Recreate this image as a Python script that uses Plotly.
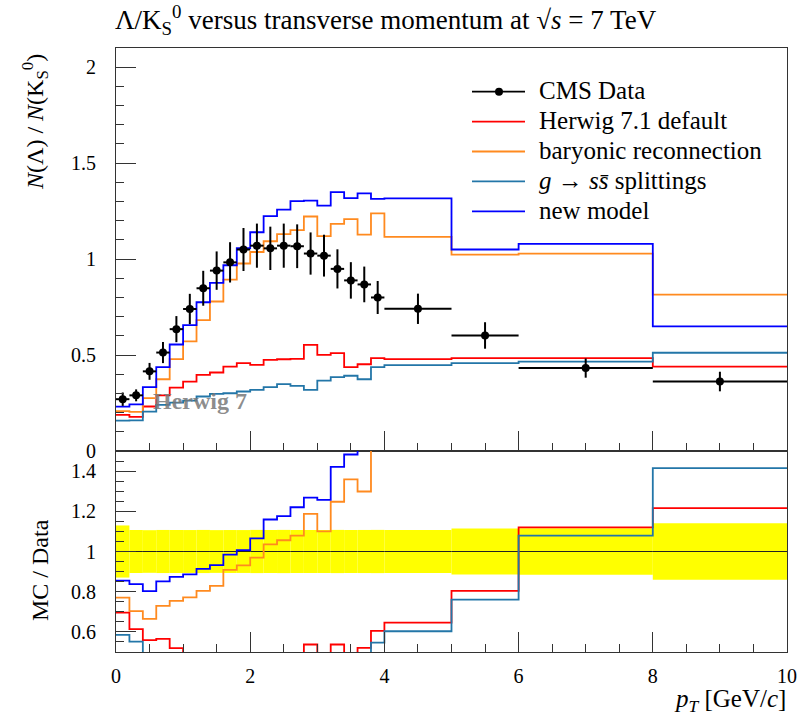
import plotly.graph_objects as go

# --- binning (GeV/c) -------------------------------------------------------
bin_edges = [0.0, 0.2, 0.4, 0.6, 0.8, 1.0, 1.2, 1.4, 1.6, 1.8, 2.0,
             2.2, 2.4, 2.6, 2.8, 3.0, 3.2, 3.4, 3.6, 3.8, 4.0,
             5.0, 6.0, 8.0, 10.0]

# --- CMS measurement ---------------------------------------------------------
cms_ratio = [0.270, 0.290, 0.415, 0.513, 0.635, 0.740, 0.848, 0.940, 0.983, 1.050,
             1.070, 1.056, 1.070, 1.067, 1.029, 1.018, 0.949, 0.889, 0.868, 0.800,
             0.741, 0.602, 0.432, 0.362]
cms_err = [0.035, 0.031, 0.044, 0.055, 0.068, 0.079, 0.091, 0.100, 0.105, 0.112,
           0.115, 0.113, 0.115, 0.114, 0.110, 0.109, 0.102, 0.095, 0.093, 0.086,
           0.079, 0.069, 0.050, 0.051]

# --- Monte Carlo predictions ------------------------------------------------
herwig_default = [0.188, 0.178, 0.232, 0.290, 0.330, 0.362, 0.397, 0.409, 0.440, 0.458,
                  0.449, 0.475, 0.478, 0.480, 0.553, 0.501, 0.510, 0.437, 0.452, 0.484,
                  0.479, 0.484, 0.484, 0.440]
baryonic_reco = [0.208, 0.204, 0.276, 0.374, 0.479, 0.571, 0.682, 0.779, 0.893, 0.977,
                 1.037, 1.093, 1.130, 1.151, 1.222, 1.120, 1.184, 1.208, 1.127, 1.238,
                 1.116, 1.023, 1.028, 0.815]
gluon_ssbar = [0.158, 0.160, 0.205, 0.240, 0.252, 0.263, 0.284, 0.298, 0.301, 0.310,
               0.319, 0.333, 0.348, 0.339, 0.319, 0.367, 0.385, 0.392, 0.374, 0.437,
               0.447, 0.458, 0.466, 0.512]
new_model = [0.231, 0.243, 0.333, 0.437, 0.555, 0.656, 0.775, 0.876, 0.968, 1.057,
             1.140, 1.224, 1.258, 1.302, 1.305, 1.279, 1.349, 1.318, 1.342, 1.314,
             1.316, 1.050, 1.079, 0.649]

series_names = ["Herwig 7.1 default", "baryonic reconnection",
                "<i>g</i> → <i>s</i><i>s̄</i> splittings", "new model"]
series_values = [herwig_default, baryonic_reco, gluon_ssbar, new_model]
series_colors = ["#ff0000", "#ff8a1f", "#2376a8", "#0000ff"]

FONT = "Liberation Serif, DejaVu Serif, serif"
W, H = 799, 717
L, R, T, B = 116, 12, 48, 65
SPLIT = 451  # pixel row where the main panel meets the ratio panel

centers = [(a + b) / 2 for a, b in zip(bin_edges[:-1], bin_edges[1:])]
half_widths = [(b - a) / 2 for a, b in zip(bin_edges[:-1], bin_edges[1:])]
widths = [b - a for a, b in zip(bin_edges[:-1], bin_edges[1:])]


def step(values):
    """Histogram outline: left edges plus closing right edge, drawn with 'hv'."""
    return list(bin_edges), list(values) + [values[-1]]


def px_x(p):
    return (p - L) / (W - L - R)


def px_y(p):
    return (H - B - p) / (H - T - B)


fig = go.Figure()

# ratio panel: data uncertainty band
rel = [e / v for e, v in zip(cms_err, cms_ratio)]
fig.add_trace(go.Bar(
    x=centers, y=[2 * r for r in rel], base=[1 - r for r in rel], width=widths,
    marker=dict(color="#ffff00", line=dict(width=0)),
    xaxis="x2", yaxis="y2", showlegend=False, hoverinfo="skip"))
xs, ys = step([1.0] * len(cms_ratio))
fig.add_trace(go.Scatter(x=xs, y=ys, mode="lines", line=dict(color="#222222", width=1),
                         line_shape="hv", xaxis="x2", yaxis="y2", showlegend=False))

# MC histograms in both panels
for name, vals, col in zip(series_names, series_values, series_colors):
    xs, ys = step(vals)
    fig.add_trace(go.Scatter(x=xs, y=ys, mode="lines", line=dict(color=col, width=1.8),
                             line_shape="hv", name=name, showlegend=False,
                             xaxis="x", yaxis="y"))
    ratio = [m / d for m, d in zip(vals, cms_ratio)]
    xs, ys = step(ratio)
    fig.add_trace(go.Scatter(x=xs, y=ys, mode="lines", line=dict(color=col, width=1.8),
                             line_shape="hv", showlegend=False,
                             xaxis="x2", yaxis="y2"))

# CMS data points
fig.add_trace(go.Scatter(
    x=centers, y=cms_ratio, mode="markers", name="CMS Data",
    marker=dict(color="black", size=8),
    error_y=dict(type="data", array=cms_err, color="black", thickness=2, width=0),
    error_x=dict(type="data", array=half_widths, color="black", thickness=2, width=0),
    showlegend=False, xaxis="x", yaxis="y"))

split_frac = px_y(SPLIT)
tick_font = dict(family=FONT, size=20, color="black")
axis_common = dict(showline=True, linecolor="#333333", linewidth=1, mirror=True,
                   ticks="inside", tickcolor="#333333", tickwidth=1, ticklen=20,
                   showgrid=False, zeroline=False, tickfont=tick_font)

fig.update_layout(
    width=W, height=H, margin=dict(l=L, r=R, t=T, b=B, autoexpand=False),
    paper_bgcolor="white", plot_bgcolor="white", barmode="overlay",
    font=dict(family=FONT, color="black"),
    xaxis=dict(domain=[0, 1], anchor="y", range=[0, 10], dtick=2, tick0=0,
               showticklabels=False, matches="x2",
               minor=dict(dtick=0.5, ticklen=8, ticks="inside", tickcolor="#333333"),
               **axis_common),
    yaxis=dict(domain=[split_frac, 1], anchor="x", range=[0, 2.1], dtick=0.5, tick0=0,
               ticklabelstandoff=15,
               minor=dict(dtick=0.1, ticklen=8, ticks="inside", tickcolor="#333333"),
               **axis_common),
    xaxis2=dict(domain=[0, 1], anchor="y2", range=[0, 10], dtick=2, tick0=0,
                ticklabelstandoff=6,
                minor=dict(dtick=0.5, ticklen=8, ticks="inside", tickcolor="#333333"),
                **axis_common),
    yaxis2=dict(domain=[0, split_frac], anchor="x2", range=[0.5, 1.5], dtick=0.2, tick0=0,
                ticklabelstandoff=15,
                minor=dict(dtick=0.05, ticklen=8, ticks="inside", tickcolor="#333333"),
                **axis_common),
)

annotations = [
    dict(text="Λ/K<sub>S</sub><sup>0</sup> versus transverse momentum at √<i>s</i> = 7 TeV",
         x=px_x(113), y=px_y(20), xanchor="left", yanchor="middle",
         font=dict(family=FONT, size=27)),
    dict(text="<i>N</i>(Λ) / <i>N</i>(K<sub>S</sub><sup>0</sup>)",
         x=px_x(35), y=px_y(52), xanchor="center", yanchor="top", textangle=-90,
         font=dict(family=FONT, size=24)),
    dict(text="MC / Data", x=px_x(40), y=px_y(570), xanchor="center", yanchor="middle",
         textangle=-90, font=dict(family=FONT, size=24)),
    dict(text="<i>p</i><sub><i>T</i></sub> [GeV/<i>c</i>]", x=px_x(788), y=px_y(700),
         xanchor="right", yanchor="middle", font=dict(family=FONT, size=25)),
    dict(text="<b>Herwig 7</b>", x=px_x(151), y=px_y(401), xanchor="left", yanchor="middle",
         font=dict(family=FONT, size=24, color="rgba(120,120,120,0.85)")),
]

# legend drawn by hand: line sample + label
legend_rows = [("CMS Data", "black")] + list(zip(series_names, series_colors))
shapes = []
for i, (label, col) in enumerate(legend_rows):
    yc = 91.7 + 29.9 * i
    shapes.append(dict(type="line", xref="paper", yref="paper",
                       x0=px_x(472), x1=px_x(525), y0=px_y(yc), y1=px_y(yc),
                       line=dict(color=col, width=1.8)))
    annotations.append(dict(text=label, x=px_x(537), y=px_y(yc - 1), xanchor="left",
                            yanchor="middle", font=dict(family=FONT, size=25)))
shapes.append(dict(type="circle", xref="paper", yref="paper", xsizemode="pixel",
                   ysizemode="pixel", xanchor=px_x(499), yanchor=px_y(91.7),
                   x0=-4, x1=4, y0=-4, y1=4, fillcolor="black", line=dict(width=0)))

for a in annotations:
    a.setdefault("xref", "paper")
    a.setdefault("yref", "paper")
    a.setdefault("showarrow", False)
fig.update_layout(annotations=annotations, shapes=shapes)

fig.write_html("out.html")
